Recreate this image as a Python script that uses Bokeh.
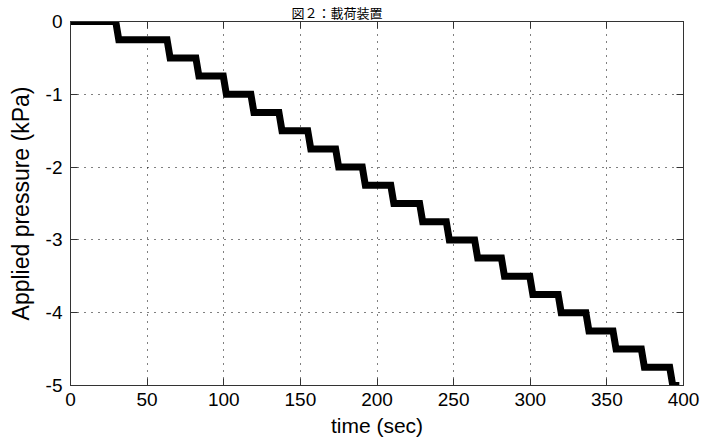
from bokeh.plotting import figure
from bokeh.models import Range1d, LinearAxis, FixedTicker
from bokeh.embed import file_html
from bokeh.resources import INLINE

# ---- data ----
title_text = "図２：載荷装置"
x_label = "time (sec)"
y_label = "Applied pressure (kPa)"

x_ticks = [0, 50, 100, 150, 200, 250, 300, 350, 400]
y_ticks = [0, -1, -2, -3, -4, -5]
y_tick_labels = ["0", "-1", "-2", "-3", "-4", "-5"]

# pressure plateaus (kPa) and the times (s) at which each drop happens
levels = [0, -0.25, -0.5, -0.75, -1.0, -1.25, -1.5, -1.75, -2.0, -2.25, -2.5,
          -2.75, -3.0, -3.25, -3.5, -3.75, -4.0, -4.25, -4.5, -4.75, -5.0]
drop_times = [30.5, 64.0, 82.8, 100.7, 118.7, 137.0, 155.8, 174.0, 191.4, 210.0,
              228.8, 246.2, 264.7, 282.2, 300.7, 319.2, 337.3, 355.0, 373.5, 392.0]
start_time = 0.0
end_time = 395.0
drop_half_width = 1.0

# build the staircase vertices from the data above
t = [start_time]
p = [levels[0]]
for i, td in enumerate(drop_times):
    t += [td - drop_half_width, td + drop_half_width]
    p += [levels[i], levels[i + 1]]
t.append(end_time)
p.append(levels[-1])

FONT = "Liberation Sans"
AXC = "#333333"

fig = figure(frame_width=613, frame_height=364,
             min_border_left=70, min_border_right=26,
             min_border_top=20, min_border_bottom=57,
             x_range=Range1d(0, 400), y_range=Range1d(-5, 0),
             output_backend="svg", toolbar_location=None,
             background_fill_color="white", border_fill_color="white")

# title above the frame
fig.title.text = title_text
fig.title.text_font = "Noto Sans CJK JP"
fig.title.text_font_size = "13px"
fig.title.text_font_style = "normal"
fig.title.text_color = "black"
fig.title.align = "left"
fig.title.offset = 221
fig.title.standoff = 0

fig.line(t, p, line_color="black", line_width=7, line_join="miter", line_cap="square")

# axes
fig.xaxis.ticker = FixedTicker(ticks=x_ticks)
fig.yaxis.ticker = FixedTicker(ticks=y_ticks)
fig.yaxis.major_label_overrides = {v: s for v, s in zip(y_ticks, y_tick_labels)}
fig.xaxis.axis_label = x_label
fig.yaxis.axis_label = y_label

for ax in (fig.xaxis[0], fig.yaxis[0]):
    ax.axis_line_color = AXC
    ax.major_tick_line_color = AXC
    ax.major_tick_in = 7
    ax.major_tick_out = 0
    ax.minor_tick_line_color = None
    ax.major_label_text_font = FONT
    ax.major_label_text_font_size = "19px"
    ax.major_label_text_color = "black"
    ax.axis_label_text_font = FONT
    ax.axis_label_text_font_style = "normal"
    ax.axis_label_text_color = "black"

fig.xaxis.axis_label_text_font_size = "21px"
fig.yaxis.axis_label_text_font_size = "23px"
fig.xaxis.major_label_standoff = 7
fig.xaxis.axis_label_standoff = 5
fig.yaxis.major_label_standoff = 8
fig.yaxis.axis_label_standoff = 9

# box ticks on top and right (no labels)
for loc, ticks in (("above", x_ticks), ("right", y_ticks)):
    ax = LinearAxis(ticker=FixedTicker(ticks=ticks))
    ax.axis_line_color = AXC
    ax.major_tick_line_color = AXC
    ax.major_tick_in = 7
    ax.major_tick_out = 0
    ax.minor_tick_line_color = None
    ax.major_label_text_color = None
    ax.major_label_text_font_size = "1px"
    ax.major_label_standoff = 0
    fig.add_layout(ax, loc)

# dotted grid
fig.xgrid.ticker = FixedTicker(ticks=x_ticks)
fig.ygrid.ticker = FixedTicker(ticks=y_ticks)
for g in (fig.xgrid[0], fig.ygrid[0]):
    g.grid_line_color = "black"
    g.grid_line_dash = "1 6"
    g.grid_line_width = 1
    g.grid_line_alpha = 1.0

fig.outline_line_color = AXC

open("out.html", "w").write(file_html(fig, INLINE))
